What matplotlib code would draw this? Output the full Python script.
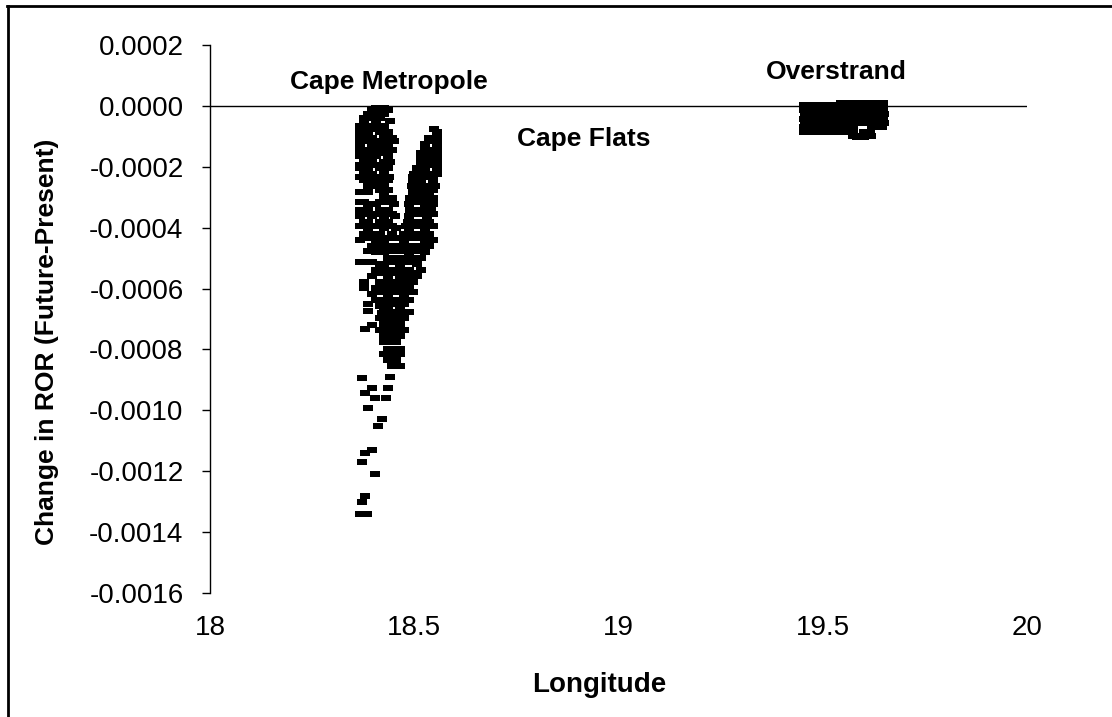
import numpy as np
import matplotlib
matplotlib.use("Agg")
import matplotlib.pyplot as plt
from matplotlib.lines import Line2D

plt.rcParams['font.family'] = ['Liberation Sans', 'DejaVu Sans']
plt.rcParams['axes.unicode_minus'] = False

# Cape Metropole / Cape Flats points, read row by row (ROR change in units of 1e-4)
cape_rows = [
    (-0.07, [18.406, 18.426]),
    (-0.15, [18.396, 18.416, 18.436]),
    (-0.26, [18.386, 18.406, 18.426]),
    (-0.40, [18.376, 18.396, 18.416]),
    (-0.50, [18.376, 18.406, 18.441]),
    (-0.66, [18.366, 18.386, 18.406, 18.426]),
    (-0.75, [18.376, 18.396, 18.416, 18.548]),
    (-0.86, [18.366, 18.386, 18.416, 18.436, 18.556]),
    (-1.05, [18.366, 18.376, 18.396, 18.426, 18.446, 18.536, 18.556]),
    (-1.15, [18.386, 18.406, 18.450, 18.546]),
    (-1.25, [18.366, 18.396, 18.416, 18.436, 18.526, 18.556]),
    (-1.45, [18.366, 18.386, 18.406, 18.426, 18.446, 18.526, 18.540, 18.556]),
    (-1.55, [18.376, 18.416, 18.516, 18.546]),
    (-1.65, [18.366, 18.386, 18.406, 18.436, 18.516, 18.536, 18.556]),
    (-1.84, [18.376, 18.396, 18.426, 18.441, 18.516, 18.536, 18.556]),
    (-1.95, [18.366, 18.406, 18.526, 18.546]),
    (-2.04, [18.366, 18.386, 18.416, 18.436, 18.506, 18.526, 18.556]),
    (-2.24, [18.376, 18.396, 18.426, 18.500, 18.516, 18.536, 18.556]),
    (-2.35, [18.366, 18.406, 18.438, 18.496, 18.526]),
    (-2.44, [18.376, 18.396, 18.416, 18.436, 18.496, 18.516, 18.546]),
    (-2.63, [18.386, 18.406, 18.426, 18.494, 18.512, 18.532, 18.552]),
    (-2.75, [18.416, 18.436, 18.506, 18.526, 18.546]),
    (-2.83, [18.366, 18.386, 18.426, 18.496, 18.516, 18.536]),
    (-3.03, [18.426, 18.446, 18.490, 18.506, 18.526, 18.546]),
    (-3.15, [18.366, 18.376, 18.416, 18.436, 18.496, 18.516, 18.536]),
    (-3.23, [18.386, 18.406, 18.450, 18.488, 18.526, 18.546]),
    (-3.42, [18.366, 18.386, 18.416, 18.436, 18.490, 18.506, 18.522, 18.540]),
    (-3.55, [18.376, 18.406, 18.446, 18.496, 18.516, 18.546]),
    (-3.62, [18.366, 18.396, 18.426, 18.452, 18.488, 18.530]),
    (-3.82, [18.376, 18.386, 18.416, 18.436, 18.484, 18.500, 18.518, 18.536]),
    (-3.95, [18.366, 18.406, 18.446, 18.480, 18.506, 18.546]),
    (-4.02, [18.386, 18.426, 18.456, 18.486, 18.526]),
    (-4.21, [18.376, 18.396, 18.416, 18.446, 18.476, 18.496, 18.516, 18.536]),
    (-4.35, [18.386, 18.436, 18.456, 18.486, 18.506]),
    (-4.41, [18.366, 18.406, 18.426, 18.476, 18.526, 18.546]),
    (-4.61, [18.396, 18.416, 18.436, 18.456, 18.476, 18.496, 18.516, 18.536]),
    (-4.75, [18.386, 18.446, 18.466, 18.506]),
    (-4.81, [18.406, 18.426, 18.486, 18.526]),
    (-5.00, [18.436, 18.456, 18.476, 18.496, 18.516]),
    (-5.12, [18.366, 18.376, 18.396, 18.446, 18.486, 18.506]),
    (-5.20, [18.416, 18.426, 18.466, 18.506]),
    (-5.40, [18.406, 18.426, 18.446, 18.466, 18.486, 18.516]),
    (-5.50, [18.416, 18.456, 18.476, 18.496]),
    (-5.60, [18.396, 18.436, 18.466, 18.486, 18.506]),
    (-5.79, [18.376, 18.416, 18.436, 18.456, 18.476, 18.496]),
    (-5.99, [18.376, 18.406, 18.426, 18.446, 18.466, 18.486]),
    (-6.10, [18.416, 18.456, 18.496]),
    (-6.19, [18.396, 18.436, 18.476]),
    (-6.39, [18.406, 18.426, 18.446, 18.466, 18.486]),
    (-6.50, [18.386, 18.416, 18.456, 18.476]),
    (-6.58, [18.416, 18.436, 18.466]),
    (-6.78, [18.426, 18.446, 18.466, 18.486]),
    (-6.98, [18.416, 18.436, 18.456, 18.476]),
    (-7.18, [18.426, 18.446, 18.466]),
    (-7.37, [18.416, 18.436, 18.456, 18.476]),
    (-7.57, [18.426, 18.446, 18.466]),
    (-7.77, [18.426, 18.436, 18.456]),
    (-7.97, [18.436, 18.456, 18.466]),
    (-8.16, [18.426, 18.446, 18.466]),
    (-8.36, [18.436, 18.456]),
    (-8.56, [18.446, 18.466]),
]

# scattered low values below the main cluster
cape_out_lon = [18.387, 18.421, 18.379, 18.397, 18.372, 18.441, 18.379, 18.397,
                18.404, 18.431, 18.436, 18.387, 18.421, 18.411, 18.379, 18.397,
                18.372, 18.404, 18.379, 18.372, 18.366, 18.384]
cape_out_ror = [-6.75, -6.81, -7.34, -7.21, -8.95, -8.89, -9.42, -9.28,
                -9.58, -9.58, -9.28, -9.91, -10.3, -10.5, -11.4, -11.3,
                -11.7, -12.1, -12.8, -13.0, -13.4, -13.4]

# Overstrand points (a tight block just under zero)
over_rows = [
    (0.10, [19.545, 19.560, 19.575, 19.590, 19.605, 19.620, 19.635, 19.648]),
    (0.03, [19.455, 19.470, 19.485, 19.500, 19.515, 19.530, 19.545]),
    (-0.12, [19.454, 19.468, 19.482, 19.497, 19.512, 19.527, 19.542, 19.557,
             19.572, 19.587, 19.602, 19.617, 19.632, 19.648]),
    (-0.27, [19.456, 19.471, 19.486, 19.501, 19.516, 19.531, 19.546, 19.561,
             19.576, 19.591, 19.606, 19.621, 19.636, 19.650]),
    (-0.42, [19.454, 19.469, 19.484, 19.499, 19.514, 19.529, 19.544, 19.559,
             19.574, 19.589, 19.604, 19.619, 19.634, 19.648]),
    (-0.57, [19.456, 19.471, 19.486, 19.501, 19.516, 19.531, 19.546, 19.561,
             19.576, 19.591, 19.606, 19.621, 19.636, 19.650]),
    (-0.70, [19.454, 19.469, 19.484, 19.499, 19.514, 19.529, 19.544, 19.559,
             19.574, 19.621, 19.636, 19.646]),
    (-0.85, [19.455, 19.470, 19.485, 19.500, 19.515, 19.530, 19.545, 19.560,
             19.575, 19.600, 19.615]),
    (-0.98, [19.575, 19.590, 19.605, 19.618]),
    (-1.02, [19.583, 19.600]),
]

x_ticks = [18, 18.5, 19, 19.5, 20]
x_tick_labels = ["18", "18.5", "19", "19.5", "20"]
y_ticks = [0.0002, 0.0, -0.0002, -0.0004, -0.0006, -0.0008, -0.0010, -0.0012, -0.0014, -0.0016]


def flatten(rows):
    lon, ror = [], []
    for r, lons in rows:
        lon += lons
        ror += [r] * len(lons)
    return lon, ror


cape_lon, cape_ror = flatten(cape_rows)
cape_lon += cape_out_lon
cape_ror += cape_out_ror
over_lon, over_ror = flatten(over_rows)

lon = np.array(cape_lon + over_lon)
ror = np.array(cape_ror + over_ror) * 1e-4

fig = plt.figure(figsize=(11.12, 7.17), dpi=100)
ax = fig.add_axes([210 / 1112, 1 - 593 / 717, 817 / 1112, 548 / 717])

rect = [(-4, -3), (4, -3), (4, 3), (-4, 3)]
ax.scatter(lon, ror, marker=rect, s=42, c="black", linewidths=0, zorder=3)

ax.axhline(0, color="black", lw=1.0, zorder=2)

ax.set_xlim(18, 20)
ax.set_ylim(-0.0016, 0.0002)
ax.set_xticks(x_ticks)
ax.set_xticklabels(x_tick_labels)
ax.set_yticks(y_ticks)
ax.set_yticklabels(["%.4f" % v for v in y_ticks])

for s in ["top", "right", "bottom"]:
    ax.spines[s].set_visible(False)
ax.spines["left"].set_linewidth(1.0)

ax.tick_params(axis="y", direction="out", length=6, width=1.0, labelsize=20, pad=13)
ax.tick_params(axis="x", length=0, labelsize=20, pad=16)

ax.set_xlabel("Longitude", fontsize=20, fontweight="bold")
ax.xaxis.set_label_coords(0.477, -0.144)
ax.xaxis.label.set_va("top")

fig.text(47 / 1112, 1 - 342 / 717, "Change in ROR (Future-Present)", rotation=90,
         ha="center", va="center", fontsize=19, fontweight="bold")

ax.text(18.438, 0.0000788, "Cape Metropole", ha="center", va="center", fontsize=19, fontweight="bold")
ax.text(19.532, 0.000112, "Overstrand", ha="center", va="center", fontsize=19, fontweight="bold")
ax.text(18.916, -0.000108, "Cape Flats", ha="center", va="center", fontsize=19, fontweight="bold")

# outer frame (only top and left visible in the crop)
fig.add_artist(Line2D([7 / 1112, 1], [1 - 6 / 717, 1 - 6 / 717], transform=fig.transFigure,
                      color="black", lw=2))
fig.add_artist(Line2D([7.5 / 1112, 7.5 / 1112], [0, 1 - 6 / 717], transform=fig.transFigure,
                      color="black", lw=2))

fig.savefig("out.png", dpi=100)
